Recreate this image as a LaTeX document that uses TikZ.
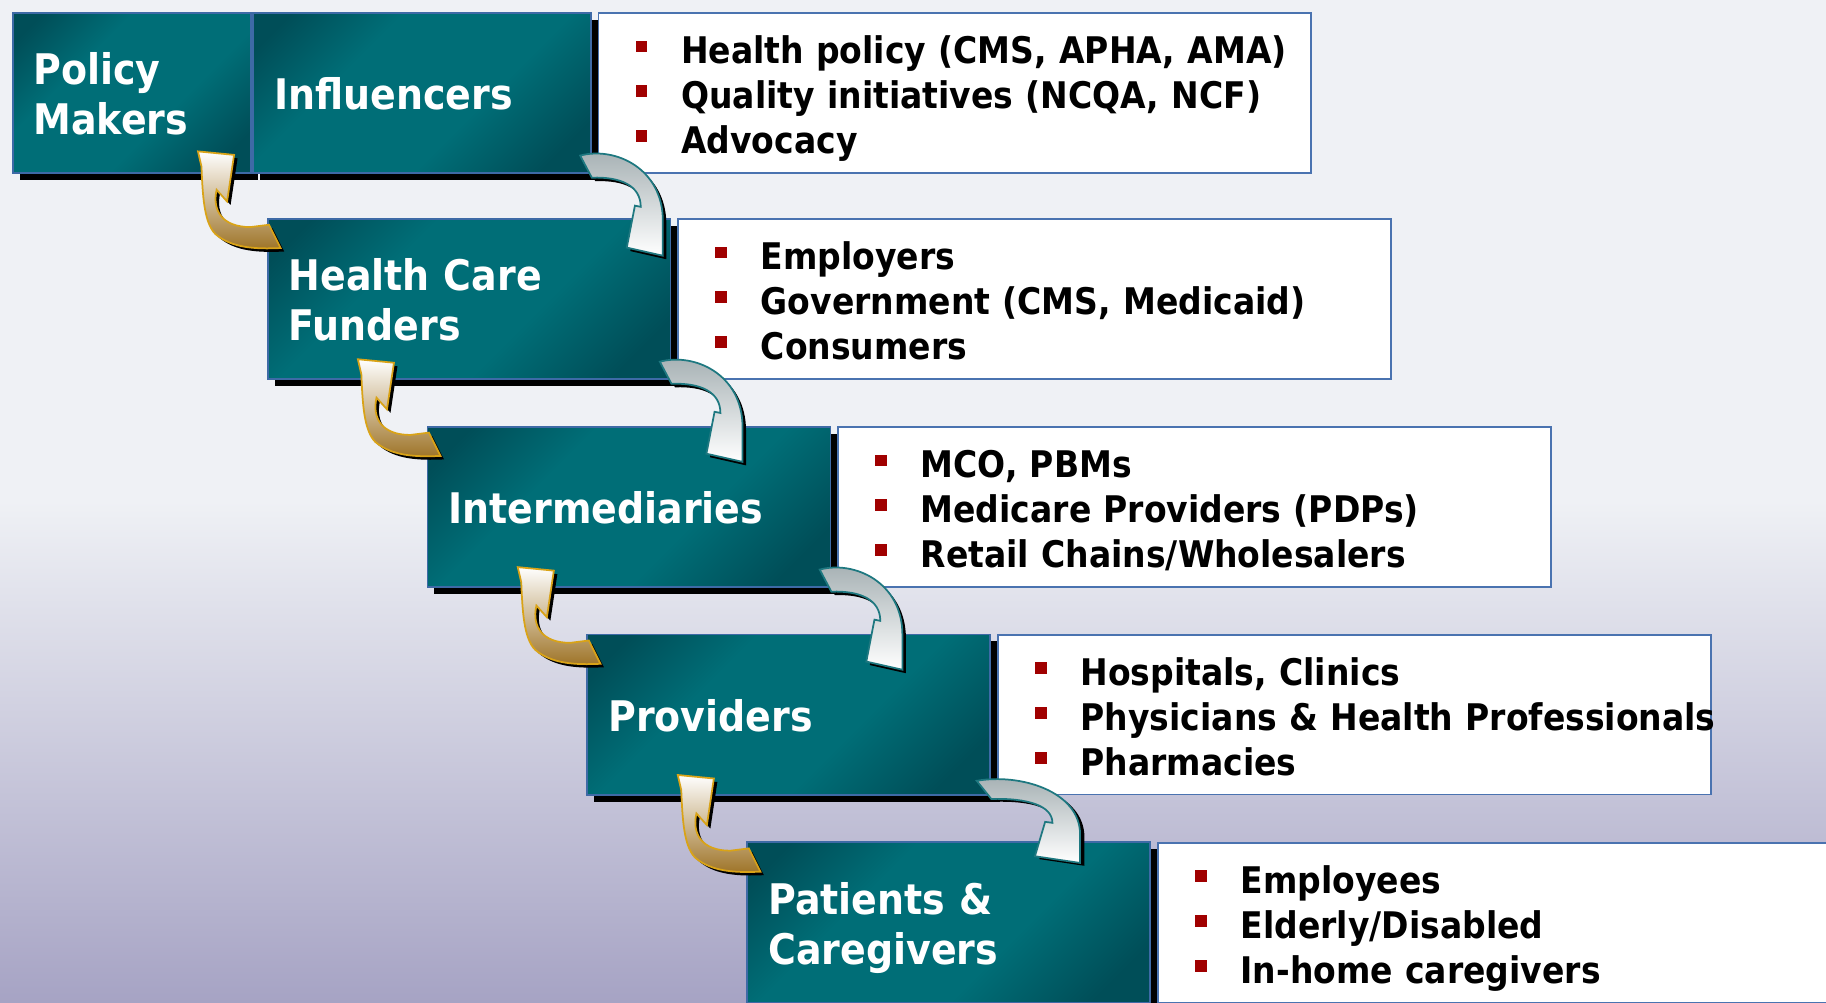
\documentclass[tikz,border=0pt]{standalone}
\usepackage{fontspec}
\setmainfont{DejaVu Sans}[FakeStretch=0.9]
\usepackage{tikz}
\usetikzlibrary{positioning,shadows}
\tikzset{>=latex}

\definecolor{tealdark}{HTML}{004E58}
\definecolor{teallight}{HTML}{006E77}
\definecolor{tealedge}{HTML}{3E6AA6}
\definecolor{listedge}{HTML}{4A73B0}
\definecolor{bulletred}{HTML}{A00000}
\definecolor{goldedge}{HTML}{D9A317}
\definecolor{goldfill}{HTML}{9E7428}
\definecolor{silveredge}{HTML}{1E7880}
\definecolor{silverfill}{HTML}{A3AEB1}
\definecolor{bgtop}{HTML}{EFF1F5}
\definecolor{bgbot}{HTML}{A6A3C4}

\pgfdeclareverticalshading{stepshade}{100bp}{color(0bp)=(tealdark); color(22bp)=(tealdark);
  color(40bp)=(teallight); color(64bp)=(teallight); color(80bp)=(tealdark); color(100bp)=(tealdark)}

\newcommand\sqbullet{\textcolor{bulletred}{\rule[10pt]{10pt}{10pt}}\hspace{29pt}}
\newcommand\bulletline[1]{\mbox{\sqbullet #1}}

\tikzset{
  stepbox/.style={rectangle, draw=tealedge, line width=1.6pt,
    shading=stepshade, shading angle=45,
    inner xsep=18pt, inner ysep=0pt, minimum height=138pt, text width=310pt,
    align=left, text=white, text height=29pt, text depth=0pt,
    font=\fontsize{36.2}{43}\selectfont\bfseries,
    drop shadow={shadow xshift=6pt, shadow yshift=-6pt, fill=black, opacity=1}},
  twoline/.style={text depth=43pt},
  listbox/.style={rectangle, draw=listedge, line width=1.5pt, fill=white,
    inner xsep=32pt, inner ysep=0pt, minimum height=137pt, text width=548pt,
    align=left, text height=24pt, text depth=74pt,
    font=\fontsize{31.5}{38.5}\selectfont\bfseries},
  goldarrow/.pic={
    \fill[black, shift={(3,3)}] (-59,-57) -- (-28,-54) -- (-34,-14) -- (-43,-24)
      .. controls (-47,-6) and (-38,8) .. (-14,8) -- (2,6) -- (12,26)
      .. controls (-10,27) and (-30,26) .. (-44,14)
      .. controls (-54,4) and (-55,-20) .. (-56,-44) -- cycle;
    \shade[top color=white, bottom color=goldfill, draw=goldedge, line width=1.5pt]
      (-59,-57) -- (-28,-54) -- (-34,-14) -- (-43,-24)
      .. controls (-47,-6) and (-38,8) .. (-14,8) -- (2,6) -- (12,26)
      .. controls (-10,27) and (-30,26) .. (-44,14)
      .. controls (-54,4) and (-55,-20) .. (-56,-44) -- cycle;
  },
  silverarrow/.pic={
    \fill[black, shift={(3,3)}] (-10,-16) .. controls (20,-24) and (61,-5) .. (61,40)
      -- (61,70) -- (30,63) -- (37,27) -- (42,28)
      .. controls (42,10) and (25,2) .. (0,3) -- cycle;
    \shade[top color=silverfill, bottom color=white, draw=silveredge, line width=1.5pt]
      (-10,-16) .. controls (20,-24) and (61,-5) .. (61,40)
      -- (61,70) -- (30,63) -- (37,27) -- (42,28)
      .. controls (42,10) and (25,2) .. (0,3) -- cycle;
  }
}

\begin{document}
\begin{tikzpicture}[x=1pt,y=-1pt]
  \useasboundingbox (0,0) rectangle (1568,861);
  \clip (0,0) rectangle (1568,861);
  % backdrop
  \fill[bgtop] (0,0) rectangle (1568,430);
  \shade[top color=bgtop, bottom color=bgbot] (0,430) rectangle (1568,861);

  % the steps
  \node[stepbox, twoline, anchor=north west, text width=169pt] (pm) at (10,10) {Policy\\Makers};
  \node[stepbox, anchor=north west, text width=254pt] (infl) at (pm.north east) {Influencers};
  \node[listbox, right=5pt of infl] (infl-list) {\bulletline{Health policy (CMS, APHA, AMA)}\\
    \bulletline{Quality initiatives (NCQA, NCF)}\\ \bulletline{Advocacy}};

  \node[stepbox, twoline, anchor=north west] (hcf) at (229,187) {Health Care\\Funders};
  \node[listbox, right=5pt of hcf] (hcf-list) {\bulletline{Employers}\\
    \bulletline{Government (CMS, Medicaid)}\\ \bulletline{Consumers}};

  \node[stepbox, anchor=north west] (imd) at (366.3,365.5) {Intermediaries};
  \node[listbox, right=5pt of imd] (imd-list) {\bulletline{MCO, PBMs}\\
    \bulletline{Medicare Providers (PDPs)}\\ \bulletline{Retail Chains/Wholesalers}};

  \node[stepbox, anchor=north west] (prv) at (503.6,544) {Providers};
  \node[listbox, right=5pt of prv] (prv-list) {\bulletline{Hospitals, Clinics}\\
    \bulletline{Physicians \& Health Professionals}\\ \bulletline{Pharmacies}};

  \node[stepbox, twoline, anchor=north west] (pat) at (641,722.5) {Patients \&\\Caregivers};
  \node[listbox, right=5pt of pat] (pat-list) {\bulletline{Employees}\\
    \bulletline{Elderly/Disabled}\\ \bulletline{In-home caregivers}};

  % curved arrows between the steps
  \pic at (hcf.north west) {goldarrow};
  \pic at (imd.north west) {goldarrow};
  \pic at (prv.north west) {goldarrow};
  \pic at (pat.north west) {goldarrow};
  \pic at (infl.south east) {silverarrow};
  \pic at (hcf.south east) {silverarrow};
  \pic at (imd.south east) {silverarrow};
  \pic[xscale=1.25, yscale=0.82] at (prv.south east) {silverarrow};
\end{tikzpicture}
\end{document}
